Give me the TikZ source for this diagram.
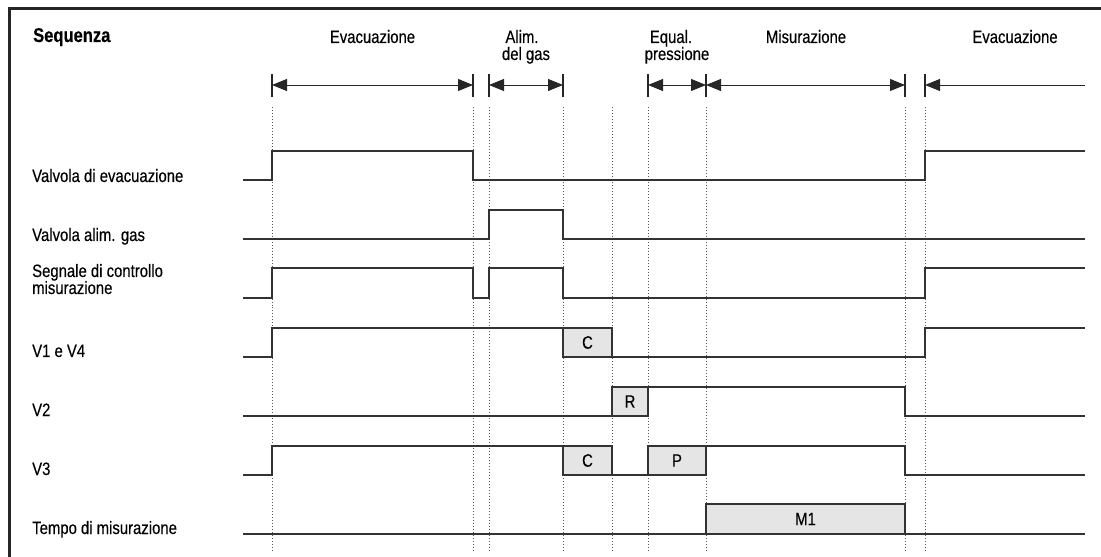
\documentclass[tikz,border=0pt]{standalone}
\usepackage{fontspec}
\setmainfont{Liberation Sans}[FakeStretch=0.83,FakeBold=0.3]
\usetikzlibrary{arrows.meta}
\tikzset{
  sig/.style={line width=1.4bp, draw=black!80, line join=miter},
  gbox/.style={line width=1.4bp, draw=black!80, fill=black!10},
  guide/.style={dotted, line width=1bp, draw=black!65},
  tick/.style={line width=1.2bp, draw=black!85},
  dimline/.style={line width=0.9bp, draw=black!85},
  lbl/.style={font=\fontsize{18}{20}\selectfont, inner sep=0pt, anchor=base west},
  hdr/.style={font=\fontsize{18}{20}\selectfont, inner sep=0pt, align=center, anchor=base},
  boxlbl/.style={font=\fontsize{18}{20}\selectfont, inner sep=0pt},
  tip/.tip={Triangle[length=15bp,width=12bp]}
}
\begin{document}
\begin{tikzpicture}[x=1bp,y=-1bp]
\useasboundingbox (0,0) rectangle (1101,557);
% frame
\draw[line width=3bp, draw=black!85] (9,557) -- (9,9) -- (1101,9);

% title and phase headers
\node[font=\bfseries\fontsize{20}{22}\selectfont, inner sep=0pt, anchor=base west] (seq) at (33,42) {Sequenza};
\node[hdr] (h1) at (372.5,43) {Evacuazione};
\node[hdr] (h2a) at (522,43) {Alim.};
\node[hdr] (h2b) at (526,60) {del gas};
\node[hdr] (h3a) at (671,43) {Equal.};
\node[hdr] (h3b) at (677,60) {pressione};
\node[hdr] (h4) at (806,43) {Misurazione};
\node[hdr] (h5) at (1015,43) {Evacuazione};

% ticks
\foreach \x in {272,473,489,563,648,706,905,925}
  \draw[tick] (\x,74) -- (\x,97);
% dimension arrows
\coordinate (a1) at (272,85); \coordinate (a2) at (473,85);
\coordinate (b1) at (489,85); \coordinate (b2) at (563,85);
\coordinate (c1) at (648,85); \coordinate (c2) at (706,85);
\coordinate (d1) at (706,85); \coordinate (d2) at (905,85);
\coordinate (e1) at (925,85); \coordinate (e2) at (1085,85);
\draw[dimline, tip-tip] (a1) -- (a2);
\draw[dimline, tip-tip] (b1) -- (b2);
\draw[dimline, tip-tip] (c1) -- (c2);
\draw[dimline, tip-tip] (d1) -- (d2);
\draw[dimline, tip-] (e1) -- (e2);

% guide lines
\foreach \x in {272,473,489,563,612,648,706,905,925}
  \draw[guide] (\x,107) -- (\x,550);

% labels
\node[lbl] (l1) at (32,182) {Valvola di evacuazione};
\node[lbl] (l2) at (32,241) {Valvola alim. gas};
\node[lbl] (l3a) at (32,277) {Segnale di controllo};
\node[lbl] (l3b) at (32,294) {misurazione};
\node[lbl] (l4) at (32,357) {V1 e V4};
\node[lbl] (l5) at (32,416) {V2};
\node[lbl] (l6) at (32,475) {V3};
\node[lbl] (l7) at (32,534) {Tempo di misurazione};

% 1 Valvola di evacuazione
\draw[sig] (243,180) -- (272,180) -- (272,151) -- (473,151) -- (473,180) -- (925,180) -- (925,151) -- (1085,151);
% 2 Valvola alim. gas
\draw[sig] (243,239) -- (489,239) -- (489,210) -- (563,210) -- (563,239) -- (1085,239);
% 3 Segnale di controllo
\draw[sig] (243,298) -- (272,298) -- (272,268) -- (473,268) -- (473,298) -- (489,298) -- (489,268) -- (563,268) -- (563,298) -- (925,298) -- (925,268) -- (1085,268);
% 4 V1 e V4
\draw[sig] (243,357) -- (272,357) -- (272,328) -- (563,328);
\draw[gbox] (563,328) rectangle node[boxlbl] (c4) {C} (612,357);
\draw[sig] (612,357) -- (925,357) -- (925,328) -- (1085,328);
% 5 V2
\draw[sig] (243,416) -- (612,416);
\draw[gbox] (612,387) rectangle node[boxlbl] (r5) {R} (648,416);
\draw[sig] (648,387) -- (905,387) -- (905,416) -- (1085,416);
% 6 V3
\draw[sig] (243,475) -- (272,475) -- (272,446) -- (563,446);
\draw[gbox] (563,446) rectangle node[boxlbl] (c6) {C} (612,475);
\draw[sig] (612,475) -- (648,475);
\draw[gbox] (648,446) rectangle node[boxlbl] (p6) {P} (706,475);
\draw[sig] (706,446) -- (905,446) -- (905,475) -- (1085,475);
% 7 Tempo di misurazione
\draw[sig] (243,534) -- (706,534);
\draw[gbox] (706,504) rectangle node[boxlbl] (m7) {M1} (905,534);
\draw[sig] (905,534) -- (1085,534);
\end{tikzpicture}
\end{document}
